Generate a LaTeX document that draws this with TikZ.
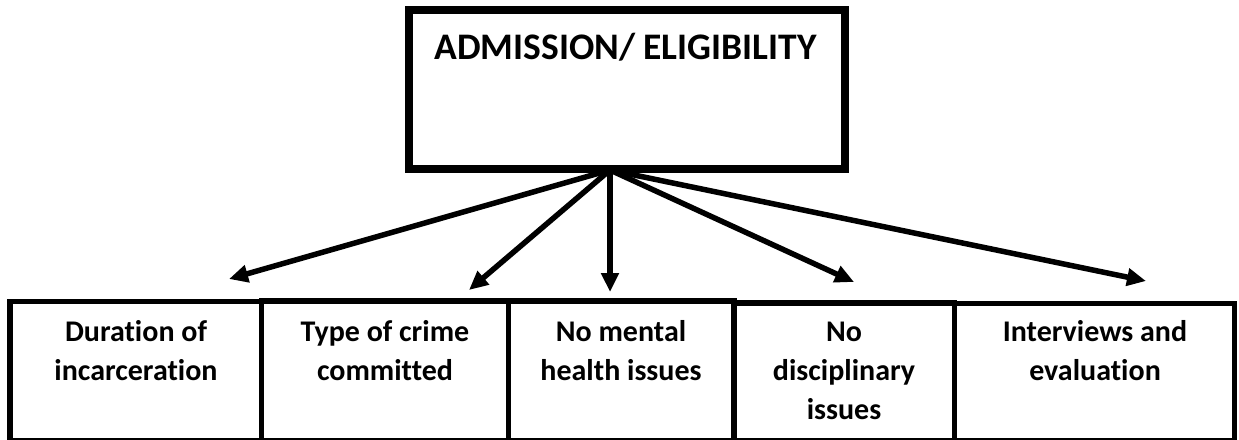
\documentclass[tikz,border=0pt]{standalone}
\usepackage{fontspec}
\setmainfont{Carlito}[Ligatures=NoCommon]
\usetikzlibrary{arrows.meta}
\begin{document}
\begin{tikzpicture}[x=1pt,y=-1pt,
  topbox/.style={draw, line width=8pt, outer sep=0pt, inner sep=0pt, anchor=north west},
  catbox/.style={draw, line width=5.5pt, outer sep=0pt, inner sep=0pt, anchor=north west},
  titletext/.style={font=\fontsize{37.5}{45}\selectfont\bfseries, anchor=base, inner sep=0pt},
  cattext/.style={font=\fontsize{30}{39}\selectfont\bfseries, align=center, anchor=base, inner sep=0pt},
  conn/.style={line width=5.5pt, -{Triangle[length=19pt,width=17pt]}}
]
\useasboundingbox (0,0) rectangle (1239,439);
\fill[white] (0,0) rectangle (1239,439);

% top box
\node[topbox, minimum width=436pt, minimum height=159pt] (adm) at (409,10) {};
\node[titletext] (admt) at (625.5,59) {ADMISSION/ ELIGIBILITY};

% bottom boxes
\node[catbox, minimum width=251.5pt, minimum height=139.5pt] (b1) at (10,301.5) {};
\node[catbox, minimum width=247pt, minimum height=140pt] (b2) at (261.5,301) {};
\node[catbox, minimum width=225.5pt, minimum height=140.2pt] (b3) at (508.5,300.8) {};
\node[catbox, minimum width=220.5pt, minimum height=138pt] (b4) at (734,303) {};
\node[catbox, minimum width=280pt, minimum height=137.5pt] (b5) at (954.5,303.5) {};

% texts (anchor=base is the baseline of the last line)
\node[cattext] (t1) at (136,380) {Duration of\\incarceration};
\node[cattext] (t2) at (385,380) {Type of crime\\committed};
\node[cattext] (t3) at (621,380) {No mental\\health issues};
\node[cattext] (t4) at (844,419) {No\\disciplinary\\issues};
\node[cattext] (t5) at (1095,380) {Interviews and\\evaluation};

% connectors
\coordinate (hub) at (610,170);
\coordinate (e1) at (229,279);
\coordinate (e2) at (469,290);
\coordinate (e3) at (610,292);
\coordinate (e4) at (854,282);
\coordinate (e5) at (1146,281);
\draw[conn] (hub) -- (e1);
\draw[conn] (hub) -- (e2);
\draw[conn] (hub) -- (e3);
\draw[conn] (hub) -- (e4);
\draw[conn] (hub) -- (e5);
\end{tikzpicture}
\end{document}
